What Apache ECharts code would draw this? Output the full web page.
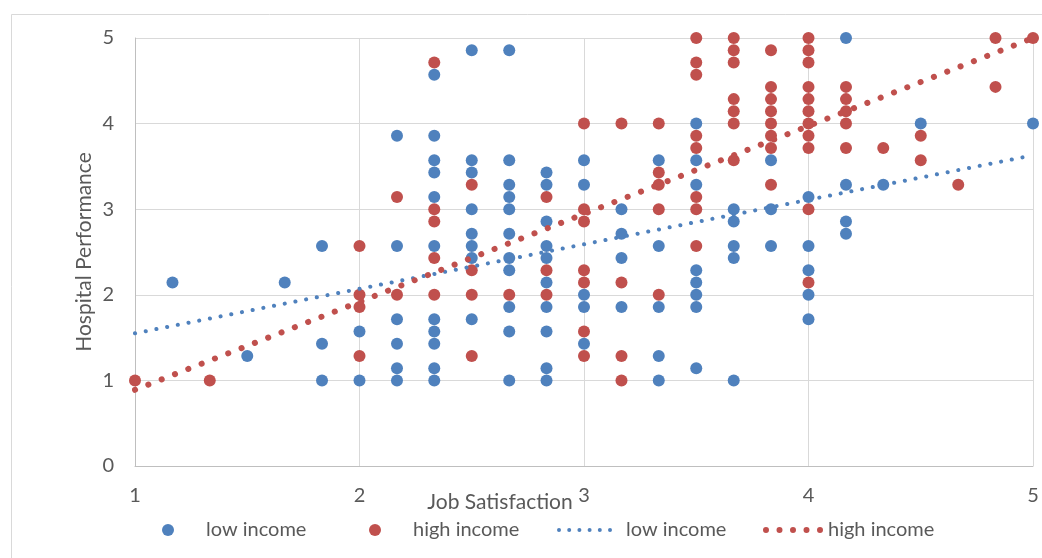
<!DOCTYPE html>
<html>
<head>
<meta charset="utf-8">
<script src="https://cdn.jsdelivr.net/npm/echarts@6/dist/echarts.min.js"></script>
<style>
  html, body { margin: 0; padding: 0; background: #ffffff; }
  #chart { width: 1042px; height: 558px; }
</style>
</head>
<body>
<div id="chart"></div>
<script>
// Survey responses: job satisfaction (x) vs. hospital performance (y), grouped by x.
const lowIncome = [
  [1.167, [2.143]],
  [1.5,   [1.286]],
  [1.667, [2.143]],
  [1.833, [2.571, 1.429, 1]],
  [2,     [1.571, 1]],
  [2.167, [3.857, 2.571, 1.714, 1.429, 1.143, 1]],
  [2.333, [4.571, 3.857, 3.571, 3.429, 3.143, 2.571, 1.714, 1.571, 1.429, 1.143, 1]],
  [2.5,   [4.857, 3.571, 3.429, 3, 2.714, 2.571, 2.429, 1.714]],
  [2.667, [4.857, 3.571, 3.286, 3.143, 3, 2.714, 2.429, 2.286, 1.857, 1.571, 1]],
  [2.833, [3.429, 3.286, 2.857, 2.571, 2.429, 2.143, 1.857, 1.571, 1.143, 1]],
  [3,     [3.571, 3.286, 2, 1.857, 1.429]],
  [3.167, [3, 2.714, 2.429, 1.857]],
  [3.333, [3.571, 2.571, 1.857, 1.286, 1]],
  [3.5,   [4, 3.571, 3.286, 2.286, 2.143, 2, 1.857, 1.143]],
  [3.667, [3, 2.857, 2.571, 2.429, 1]],
  [3.833, [3.571, 3, 2.571]],
  [4,     [3.143, 2.571, 2.286, 2, 1.714]],
  [4.167, [5, 3.286, 2.857, 2.714]],
  [4.333, [3.286]],
  [4.5,   [4]],
  [5,     [4]]
];

const highIncome = [
  [1,     [1]],
  [1.333, [1]],
  [2,     [2.571, 2, 1.857, 1.286]],
  [2.167, [3.143, 2]],
  [2.333, [4.714, 3, 2.857, 2.429, 2]],
  [2.5,   [3.286, 2.286, 2, 1.286]],
  [2.667, [2]],
  [2.833, [3.143, 2.286, 2]],
  [3,     [4, 3, 2.857, 2.286, 2.143, 1.571, 1.286]],
  [3.167, [4, 2.143, 1.286, 1]],
  [3.333, [4, 3.429, 3.286, 3, 2]],
  [3.5,   [5, 4.714, 4.571, 3.857, 3.714, 3.143, 3, 2.571]],
  [3.667, [5, 4.857, 4.714, 4.286, 4.143, 4, 3.571]],
  [3.833, [4.857, 4.429, 4.286, 4.143, 4, 3.857, 3.714, 3.286]],
  [4,     [5, 4.857, 4.714, 4.429, 4.286, 4.143, 4, 3.857, 3.714, 3, 2.143]],
  [4.167, [4.429, 4.286, 4.143, 4, 3.714]],
  [4.333, [3.714]],
  [4.5,   [3.857, 3.571]],
  [4.667, [3.286]],
  [4.833, [5, 4.429]],
  [5,     [5]]
];

// Linear trendline end points
const lowTrend  = [[1, 1.55], [5, 3.63]];
const highTrend = [[1, 0.89], [5, 5.0]];

const seriesNames = ['low income', 'high income'];

const BLUE = '#4F81BD';
const RED  = '#C0504D';
const TEXT = '#595959';
const FONT = 'Lato, "Liberation Sans", sans-serif';

const toPoints = groups => groups.flatMap(([x, ys]) => ys.map(y => [x, y]));

// Row of dots used as the legend icon of a dotted trendline
function dotRow(count, r, step) {
  let d = '';
  for (let i = 0; i < count; i++) {
    const cx = r + i * step;
    d += `M${cx - r},${r}a${r},${r} 0 1,0 ${2 * r},0a${r},${r} 0 1,0 ${-2 * r},0Z`;
  }
  return 'path://' + d;
}

function legendAt(name, left, opts) {
  return {
    data: [{ name: name, icon: opts.icon }],
    left: left,
    top: 520,
    padding: 0,
    itemWidth: opts.w,
    itemHeight: opts.h,
    selectedMode: false,
    formatter: n => n.replace(' (linear)', ''),
    itemStyle: { color: opts.color, borderWidth: 0 },
    lineStyle: { width: 0 },
    textStyle: {
      color: TEXT, fontFamily: FONT, fontSize: 20, lineHeight: 20,
      padding: [0, 0, 0, opts.pad]
    }
  };
}

const chart = echarts.init(document.getElementById('chart'), null, { renderer: 'canvas' });

chart.setOption({
  animation: false,
  backgroundColor: '#ffffff',
  grid: { left: 135, right: 9, top: 38, bottom: 92, containLabel: false },
  graphic: [{
    type: 'rect',
    z: -10,
    silent: true,
    shape: { x: 11.5, y: 14.5, width: 1100, height: 600 },
    style: { fill: 'none', stroke: '#d9d9d9', lineWidth: 1 }
  }],
  legend: [
    legendAt(seriesNames[0], 162, { icon: 'circle', w: 12, h: 12, color: BLUE, pad: 27 }),
    legendAt(seriesNames[1], 369, { icon: 'circle', w: 12, h: 12, color: RED, pad: 27 }),
    legendAt(seriesNames[0] + ' (linear)', 557, { icon: dotRow(6, 2, 10.2), w: 55, h: 4, color: BLUE, pad: 9 }),
    legendAt(seriesNames[1] + ' (linear)', 763, { icon: dotRow(5, 3, 13.5), w: 60, h: 6, color: RED, pad: 0 })
  ],
  xAxis: {
    type: 'value',
    min: 1, max: 5, interval: 1,
    name: 'Job Satisfaction',
    nameLocation: 'middle',
    nameGap: 26,
    nameMoveOverlap: false,
    nameTextStyle: { color: TEXT, fontFamily: FONT, fontSize: 21, padding: [0, 168, 0, 0] },
    axisLine: { show: true, lineStyle: { color: '#bfbfbf', width: 1 } },
    axisTick: { show: false },
    axisLabel: { color: TEXT, fontFamily: FONT, fontSize: 20, margin: 20 },
    splitLine: { show: true, lineStyle: { color: '#d9d9d9', width: 1 } }
  },
  yAxis: {
    type: 'value',
    min: 0, max: 5, interval: 1,
    name: 'Hospital Performance',
    nameLocation: 'middle',
    nameGap: 40,
    nameMoveOverlap: false,
    nameTextStyle: { color: TEXT, fontFamily: FONT, fontSize: 21 },
    axisLine: { show: true, lineStyle: { color: '#bfbfbf', width: 1 } },
    axisTick: { show: false },
    axisLabel: { color: TEXT, fontFamily: FONT, fontSize: 20, margin: 21 },
    splitLine: { show: true, lineStyle: { color: '#d9d9d9', width: 1 } }
  },
  series: [
    {
      name: seriesNames[0],
      type: 'scatter',
      data: toPoints(lowIncome),
      symbol: 'circle',
      symbolSize: 12,
      itemStyle: { color: BLUE, opacity: 1 },
      z: 2
    },
    {
      name: seriesNames[1],
      type: 'scatter',
      data: toPoints(highIncome),
      symbol: 'circle',
      symbolSize: 12,
      itemStyle: { color: RED, opacity: 1 },
      z: 3
    },
    {
      name: seriesNames[0] + ' (linear)',
      type: 'line',
      data: lowTrend,
      symbol: 'none',
      color: BLUE,
      lineStyle: { color: BLUE, width: 4, type: [0.1, 10.8], cap: 'round' },
      z: 4
    },
    {
      name: seriesNames[1] + ' (linear)',
      type: 'line',
      data: highTrend,
      symbol: 'none',
      color: RED,
      lineStyle: { color: RED, width: 6, type: [0.1, 14.2], cap: 'round' },
      z: 5
    }
  ]
});
</script>
</body>
</html>
